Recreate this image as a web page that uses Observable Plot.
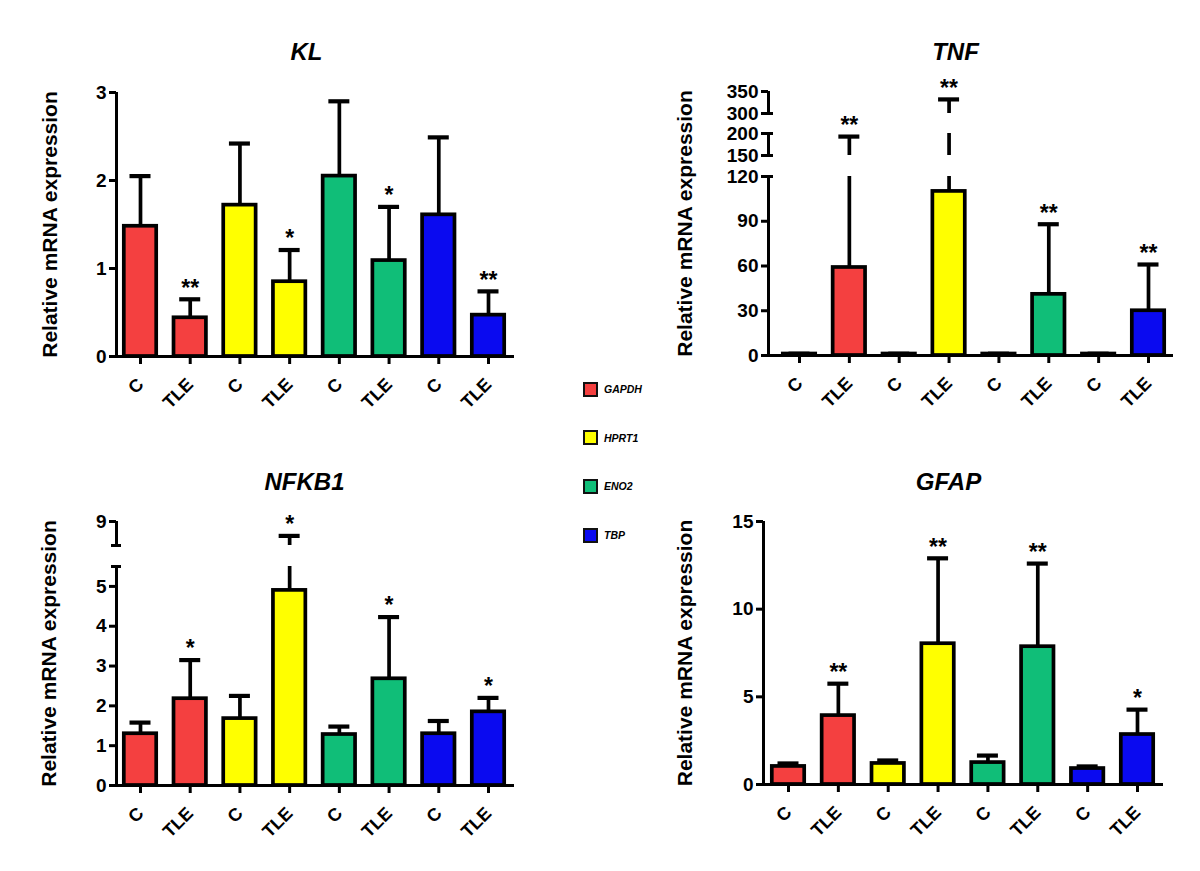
<!DOCTYPE html>
<html>
<head>
<meta charset="utf-8">
<script src="https://cdn.jsdelivr.net/npm/d3@7"></script>
<script src="https://cdn.jsdelivr.net/npm/@observablehq/plot@0.6"></script>
<style>
  body { margin: 0; background: #fff; }
  #root { position: relative; width: 1200px; height: 871px; overflow: hidden; background: #fff;
          font-family: "Liberation Sans", Arial, sans-serif; }
  .panel { position: absolute; }
  .leg { position: absolute; display: flex; align-items: center; font-style: italic; font-weight: bold; font-size: 10.5px; color: #000; }
  .leg .sw { width: 11px; height: 11px; border: 2px solid #111; margin-right: 6px; }
</style>
</head>
<body>
<div id="root"></div>
<script>
// ---------- data ----------
const refGenes   = ["GAPDH", "HPRT1", "ENO2", "TBP"];
const geneColors = ["#f44040", "#ffff00", "#10be78", "#0a0af0"];
const groups     = ["C", "TLE"];
const xLabels    = ["C", "TLE", "C", "TLE", "C", "TLE", "C", "TLE"];
const yAxisLabel = "Relative mRNA expression";

// order: GAPDH C, GAPDH TLE, HPRT1 C, HPRT1 TLE, ENO2 C, ENO2 TLE, TBP C, TBP TLE
const klMean    = [1.48, 0.44, 1.72, 0.85, 2.05, 1.09, 1.61, 0.47];
const klErrTop  = [2.05, 0.65, 2.42, 1.21, 2.90, 1.70, 2.49, 0.74];
const klSig     = ["", "**", "", "*", "", "*", "", "**"];
const klTicks   = [0, 1, 2, 3];
const klSegments = [[0, 3]];

const tnfMean   = [1, 59, 1, 110, 1, 41, 1, 30];
const tnfErrTop = [1.2, 193, 1.2, 332, 1.2, 88, 1.2, 61];
const tnfSig    = ["", "**", "", "**", "", "**", "", "**"];
const tnfTicks  = [0, 30, 60, 90, 120, 150, 200, 300, 350];
const tnfSegments = [[0, 120], [150, 200], [300, 350]];

const nfkb1Mean   = [1.30, 2.18, 1.68, 4.90, 1.28, 2.68, 1.30, 1.85];
const nfkb1ErrTop = [1.58, 3.15, 2.25, 8.40, 1.48, 4.23, 1.62, 2.20];
const nfkb1Sig    = ["", "*", "", "*", "", "*", "", "*"];
const nfkb1Ticks  = [0, 1, 2, 3, 4, 5, 9];
const nfkb1Segments = [[0, 5.5], [8, 9]];

const gfapMean   = [1.03, 3.93, 1.20, 8.03, 1.25, 7.86, 0.91, 2.85];
const gfapErrTop = [1.20, 5.75, 1.37, 12.9, 1.65, 12.6, 1.03, 4.27];
const gfapSig    = ["", "**", "", "**", "", "**", "", "*"];
const gfapTicks  = [0, 5, 10, 15];
const gfapSegments = [[0, 15]];

// ---------- layout (pixels) ----------
const panels = [
  {title: "KL", mean: klMean, errTop: klErrTop, sig: klSig, ticks: klTicks, segments: klSegments,
   left: 0, top: 0, width: 600, height: 435, frameX: [116, 514], centers: [140, 488],
   yDomain: [0, 3], yRange: [356, 92], titleAt: [306, 52], yLabelX: 50},
  {title: "TNF", mean: tnfMean, errTop: tnfErrTop, sig: tnfSig, ticks: tnfTicks, segments: tnfSegments,
   left: 600, top: 0, width: 600, height: 435, frameX: [168, 573], centers: [199, 548],
   yDomain: [0, 120, 150, 200, 300, 350], yRange: [355, 176, 155, 133, 113, 91], titleAt: [355, 52], yLabelX: 85},
  {title: "NFKB1", mean: nfkb1Mean, errTop: nfkb1ErrTop, sig: nfkb1Sig, ticks: nfkb1Ticks, segments: nfkb1Segments,
   left: 0, top: 435, width: 600, height: 436, frameX: [116, 514], centers: [140, 488],
   yDomain: [0, 5.5, 8, 9], yRange: [350, 131, 110, 86], titleAt: [304, 47], yLabelX: 49},
  {title: "GFAP", mean: gfapMean, errTop: gfapErrTop, sig: gfapSig, ticks: gfapTicks, segments: gfapSegments,
   left: 600, top: 435, width: 600, height: 436, frameX: [163, 563], centers: [188, 537],
   yDomain: [0, 15], yRange: [349, 86], titleAt: [348, 47], yLabelX: 85}
];

const FONT = "'Liberation Sans', Arial, Helvetica, sans-serif";
const root = document.getElementById("root");

function makePanel(p) {
  const rows = p.mean.map((m, i) => ({
    i, mean: m, errTop: p.errTop[i], sig: p.sig[i],
    gene: refGenes[Math.floor(i / 2)], group: groups[i % 2],
    color: geneColors[Math.floor(i / 2)]
  }));
  const step = (p.centers[1] - p.centers[0]) / 7;          // px per category
  const axisPos = (p.frameX[0] - p.centers[0]) / step;     // y-axis position in x units
  const barHalf = 16.2 / step, capHalf = 10.5 / step, breakHalf = 5 / step;

  // visible error-bar pieces (split on broken axis)
  const pieces = [];
  rows.forEach(r => p.segments.forEach(([a, b]) => {
    const lo = Math.max(r.mean, a), hi = Math.min(r.errTop, b);
    if (hi > lo) pieces.push({i: r.i, lo, hi});
  }));
  // inner ends of the axis segments (break caps)
  const ends = p.segments.flat().slice(1, -1);

  const marginTop = Math.min(...p.yRange);
  const marginBottom = p.height - Math.max(...p.yRange);

  const chart = Plot.plot({
    width: p.width, height: p.height,
    marginLeft: p.frameX[0], marginRight: p.width - p.frameX[1],
    marginTop, marginBottom,
    style: {fontFamily: FONT, fontSize: "19px", fontWeight: "bold", color: "#000", background: "transparent", overflow: "visible"},
    x: {type: "linear", domain: [0, 7], range: p.centers},
    y: {type: "linear", domain: p.yDomain, range: p.yRange},
    color: {type: "identity"},
    marks: [
      Plot.rect(rows, {x1: d => d.i - barHalf, x2: d => d.i + barHalf, y1: 0, y2: "mean",
                       fill: "color", stroke: "#000", strokeWidth: 3.7}),
      Plot.ruleX(pieces, {x: "i", y1: "lo", y2: "hi", stroke: "#000", strokeWidth: 3.7}),
      Plot.ruleY(rows, {y: "errTop", x1: d => d.i - capHalf, x2: d => d.i + capHalf, stroke: "#000", strokeWidth: 4.2}),
      Plot.text(rows.filter(d => d.sig), {x: "i", y: "errTop", text: "sig", dy: -11,
                       fontSize: 23, fontWeight: "bold", fill: "#000"}),
      Plot.ruleY([0], {stroke: "#000", strokeWidth: 3}),
      Plot.ruleX(p.segments, {x: () => axisPos, y1: d => d[0], y2: d => d[1], stroke: "#000", strokeWidth: 3}),
      Plot.ruleY(ends, {y: d => d, x1: axisPos - breakHalf, x2: axisPos + breakHalf, stroke: "#000", strokeWidth: 3}),
      Plot.axisY({ticks: p.ticks, tickFormat: d => String(d), tickSize: 7, tickPadding: 3,
                  strokeWidth: 3, label: null, fontSize: 19, fontWeight: "bold"}),
      Plot.axisX({ticks: d3.range(8), tickFormat: i => xLabels[i], tickRotate: -45, tickSize: 8,
                  tickPadding: 17, strokeWidth: 3, label: null, fontSize: 18, fontWeight: "bold"}),
      Plot.text([p.title], {frameAnchor: "top-left", dx: p.titleAt[0] - p.frameX[0], dy: p.titleAt[1] - marginTop,
                  textAnchor: "middle", lineAnchor: "middle", fontSize: 24, fontWeight: "bold", fontStyle: "italic", fill: "#000"}),
      Plot.text([yAxisLabel], {frameAnchor: "left", dx: p.yLabelX - p.frameX[0], rotate: -90,
                  textAnchor: "middle", lineAnchor: "middle", fontSize: 21, fontWeight: "bold", fill: "#000"})
    ]
  });
  const wrap = document.createElement("div");
  wrap.className = "panel";
  wrap.style.left = p.left + "px";
  wrap.style.top = p.top + "px";
  wrap.appendChild(chart);
  root.appendChild(wrap);
}

panels.forEach(makePanel);

// ---------- legend ----------
const legendTop = 389, legendStep = 48.7, legendLeft = 583;
refGenes.forEach((g, k) => {
  const d = document.createElement("div");
  d.className = "leg";
  d.style.left = legendLeft + "px";
  d.style.top = (legendTop + k * legendStep - 7.5) + "px";
  d.style.height = "15px";
  const sw = document.createElement("div");
  sw.className = "sw";
  sw.style.background = geneColors[k];
  const t = document.createElement("span");
  t.textContent = g;
  d.appendChild(sw); d.appendChild(t);
  root.appendChild(d);
});
</script>
</body>
</html>
